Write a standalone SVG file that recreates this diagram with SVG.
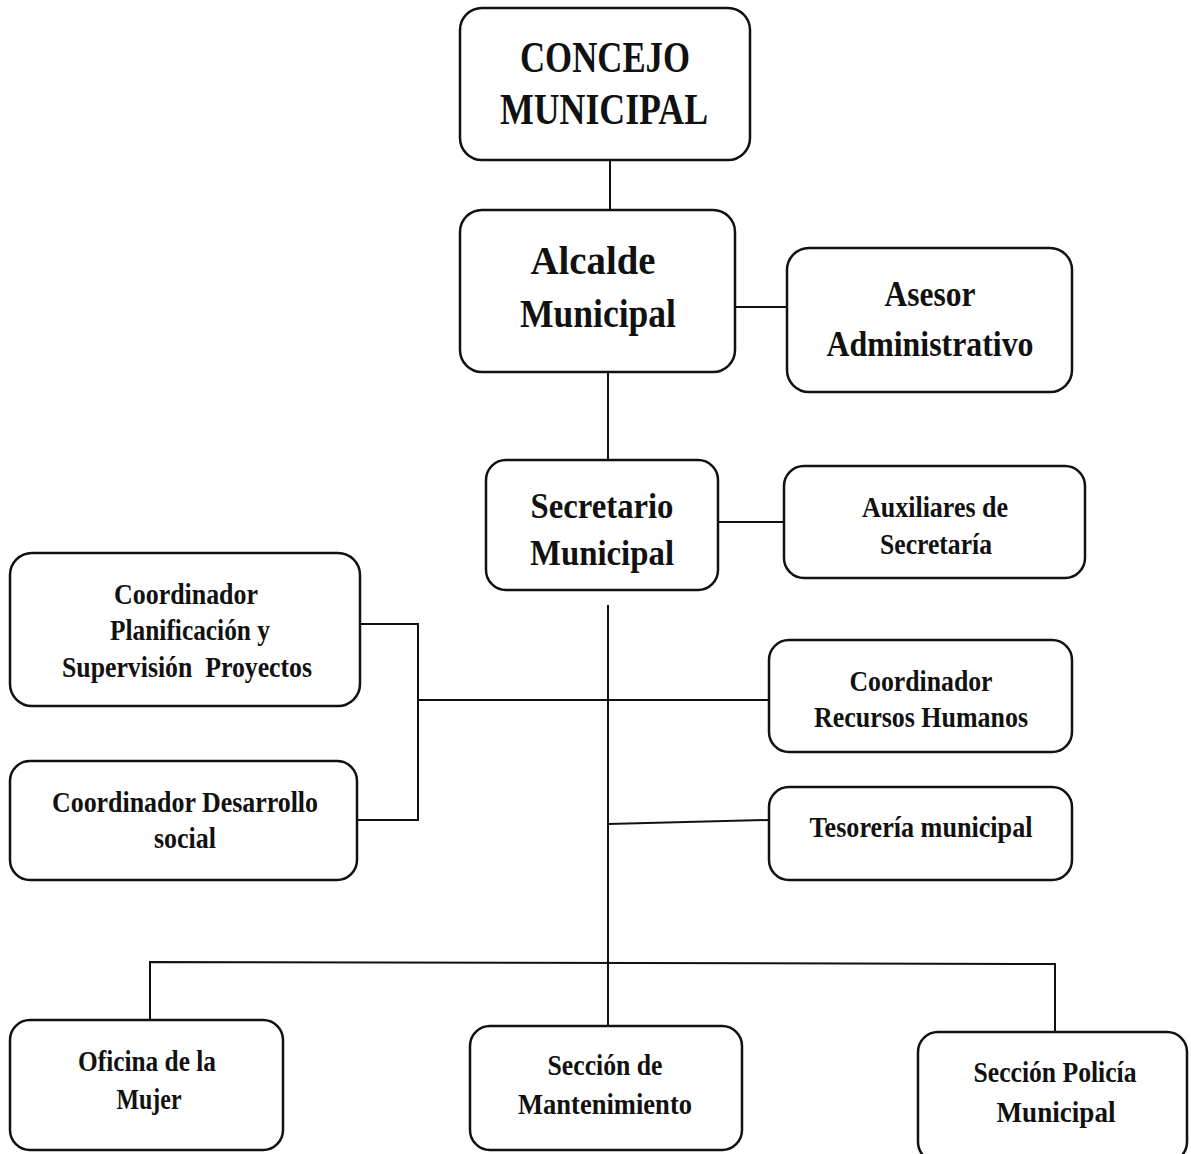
<svg xmlns="http://www.w3.org/2000/svg" width="1191" height="1154" viewBox="0 0 1191 1154">
<style>
.box{fill:#fff;stroke:#111;stroke-width:2.5}
.t{font-family:"Liberation Serif","Times New Roman",serif;font-weight:bold;fill:#111;text-anchor:middle}
.xl{font-size:44px}.l{font-size:40px}.m{font-size:36px}.s{font-size:29px}
.c{stroke:#111;stroke-width:2;fill:none}
</style>
<rect width="1191" height="1154" fill="#fff"/>
<g id="connectors">
<line class="c" x1="610" y1="160" x2="610" y2="210"/>
<line class="c" x1="735" y1="307" x2="787" y2="307"/>
<line class="c" x1="608" y1="372" x2="608" y2="460"/>
<line class="c" x1="718" y1="522" x2="784" y2="522"/>
<line class="c" x1="608" y1="605" x2="608" y2="1026"/>
<polyline class="c" points="360,624 418,624 418,820 357,820"/>
<line class="c" x1="418" y1="700" x2="769" y2="700"/>
<line class="c" x1="608" y1="824" x2="769" y2="820"/>
<polyline class="c" points="150,1020 150,962 1055,964 1055,1032"/>
</g>
<g id="concejo"><rect class="box" x="460" y="8" width="290" height="152" rx="22"/>
<text class="t xl" x="605" y="72" textLength="170" lengthAdjust="spacingAndGlyphs">CONCEJO</text>
<text class="t xl" x="604" y="124" textLength="208" lengthAdjust="spacingAndGlyphs">MUNICIPAL</text></g>
<g id="alcalde"><rect class="box" x="460" y="210" width="275" height="162" rx="22"/>
<text class="t l" x="593" y="274" textLength="125" lengthAdjust="spacingAndGlyphs">Alcalde</text>
<text class="t l" x="598" y="327" textLength="156" lengthAdjust="spacingAndGlyphs">Municipal</text></g>
<g id="asesor"><rect class="box" x="787" y="248" width="285" height="144" rx="22"/>
<text class="t m" x="930" y="306" textLength="91" lengthAdjust="spacingAndGlyphs">Asesor</text>
<text class="t m" x="930" y="356" textLength="207" lengthAdjust="spacingAndGlyphs">Administrativo</text></g>
<g id="secretario"><rect class="box" x="486" y="460" width="232" height="130" rx="20"/>
<text class="t m" x="602" y="518" textLength="143" lengthAdjust="spacingAndGlyphs">Secretario</text>
<text class="t m" x="602" y="565" textLength="144" lengthAdjust="spacingAndGlyphs">Municipal</text></g>
<g id="auxiliares"><rect class="box" x="784" y="466" width="301" height="112" rx="20"/>
<text class="t s" x="935" y="517" textLength="146" lengthAdjust="spacingAndGlyphs">Auxiliares de</text>
<text class="t s" x="936" y="554" textLength="112" lengthAdjust="spacingAndGlyphs">Secretaría</text></g>
<g id="planificacion"><rect class="box" x="10" y="553" width="350" height="153" rx="22"/>
<text class="t s" x="186" y="604" textLength="144" lengthAdjust="spacingAndGlyphs">Coordinador</text>
<text class="t s" x="190" y="640" textLength="160" lengthAdjust="spacingAndGlyphs">Planificación y</text>
<text class="t s" x="187" y="677" textLength="250" lengthAdjust="spacingAndGlyphs" xml:space="preserve">Supervisión  Proyectos</text></g>
<g id="rrhh"><rect class="box" x="769" y="640" width="303" height="112" rx="20"/>
<text class="t s" x="921" y="691" textLength="143" lengthAdjust="spacingAndGlyphs">Coordinador</text>
<text class="t s" x="921" y="727" textLength="214" lengthAdjust="spacingAndGlyphs">Recursos Humanos</text></g>
<g id="desarrollo"><rect class="box" x="10" y="761" width="347" height="119" rx="20"/>
<text class="t s" x="185" y="812" textLength="266" lengthAdjust="spacingAndGlyphs">Coordinador Desarrollo</text>
<text class="t s" x="185" y="848" textLength="62" lengthAdjust="spacingAndGlyphs">social</text></g>
<g id="tesoreria"><rect class="box" x="769" y="787" width="303" height="93" rx="20"/>
<text class="t s" x="921" y="837" textLength="223" lengthAdjust="spacingAndGlyphs">Tesorería municipal</text></g>
<g id="mujer"><rect class="box" x="10" y="1020" width="273" height="130" rx="20"/>
<text class="t s" x="147" y="1071" textLength="138" lengthAdjust="spacingAndGlyphs">Oficina de la</text>
<text class="t s" x="149" y="1109" textLength="65" lengthAdjust="spacingAndGlyphs">Mujer</text></g>
<g id="mantenimiento"><rect class="box" x="470" y="1026" width="272" height="124" rx="20"/>
<text class="t s" x="605" y="1075" textLength="115" lengthAdjust="spacingAndGlyphs">Sección de</text>
<text class="t s" x="605" y="1114" textLength="174" lengthAdjust="spacingAndGlyphs">Mantenimiento</text></g>
<g id="policia"><rect class="box" x="918" y="1032" width="269" height="130" rx="20"/>
<text class="t s" x="1055" y="1082" textLength="163" lengthAdjust="spacingAndGlyphs">Sección Policía</text>
<text class="t s" x="1056" y="1122" textLength="119" lengthAdjust="spacingAndGlyphs">Municipal</text></g>
</svg>
